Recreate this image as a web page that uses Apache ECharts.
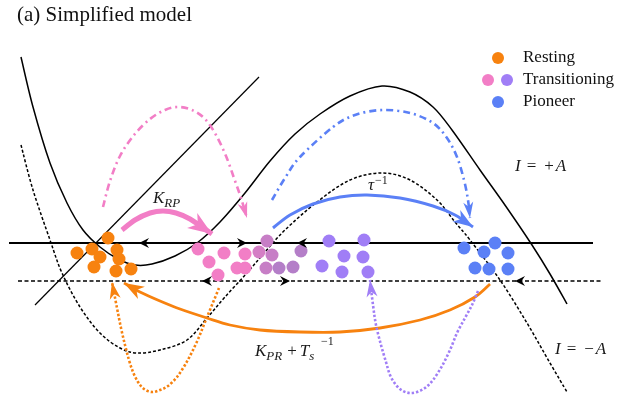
<!DOCTYPE html>
<html><head><meta charset="utf-8">
<script src="https://cdn.jsdelivr.net/npm/echarts@6/dist/echarts.min.js"></script>
<style>html,body{margin:0;padding:0;background:#fff}#c{width:626px;height:398px}</style>
</head><body><div id="c"></div>
<script>
// ---- schematic data (x, y in drawing units; y grows downward) ----
const nullclinePlus = [[21,57],[33,107],[50,163],[67,203],[83,230],[100,247],[118,259],[135,265],[152,264],[175,256],[197,243],[220,222],[245,193],[270,161],[295,134],[320,114],[350,96],[382,86],[410,92],[433,107],[452,130],[480,170],[507,208],[532,245],[550,274],[567,304]];
const nullclineMinus = [[21,145],[33,190],[50,240],[62,273],[80,307],[100,333],[120,348],[137,353],[160,350],[187,340],[207,318],[225,297],[247,273],[265,252],[285,230],[317,202],[350,180],[382,173],[410,180],[437,200],[455,222],[470,240],[500,280],[527,323],[550,363],[567,392]];
const diagonalLine = [[35,305],[259,77]];
const solidFixedLine = [[9,243],[593,243]];
const dashedFixedLine = [[18,281],[602,281]];

const restingDots = [[77,253],[92,249],[108,238],[117,250],[100,257],[119,259],[94,267],[116,271],[131,269]];
const transitionPinkDots = [[198,249],[209,262],[224,253],[218,275],[237,268],[245,268],[245,254]];
const transitionMauveADots = [[259,252]];
const transitionMauveBDots = [[267,241],[272,255],[266,268]];
const transitionMauveCDots = [[279,268],[293,267],[301,251]];
const transitionPurpleDots = [[329,241],[364,240],[344,256],[363,257],[322,266],[342,272],[368,272]];
const pioneerDots = [[464,248],[495,243],[484,252],[508,253],[475,268],[489,269],[508,269]];

const arcKRP = [[122,230],[135,220],[150,213],[163,211],[176,213],[190,219],[212,234]];
const arcPinkDashDot = [[103,207],[110,181],[120,156],[134,135],[150,119],[165,110],[178,107],[192,110],[205,119],[216,135],[226,156],[234,178],[241,198],[247,218]];
const arcTau = [[273,228],[290,215],[313,204],[340,197],[367,195],[400,198],[433,206],[455,215],[473,227]];
const arcBlueDashDot = [[272,200],[285,178],[300,157],[333,127],[355,115],[382,110],[410,113],[433,123],[447,138],[457,157],[464,180],[468,200],[470,218]];
const arcKPR = [[490,284],[475,297],[450,310],[420,320],[380,328],[340,332],[300,332],[260,330],[230,325],[207,318],[180,309],[160,301],[140,292],[124,283]];
const arcOrangeDotted = [[219,288],[212,305],[205,322],[199,337],[192,352],[185,365],[177,377],[168,386],[160,390],[152,392],[144,389],[138,382],[133,372],[129,360],[125,345],[121,328],[117,308],[112,282]];
const arcPurpleDotted = [[478,291],[472,305],[465,318],[457,333],[450,350],[442,366],[433,380],[425,388],[417,392],[410,393],[403,391],[396,385],[390,375],[386,362],[381,345],[376,325],[373,305],[370,280]];

// flow arrows on the two fixed-point lines: [tipX, y, direction]
const solidFlowArrows = [[139,243,-1],[247,243,1],[297,243,-1]];
const dashedFlowArrows = [[202,281,-1],[290,281,1],[515,281,-1]];

const legendResting = [[498,58]];
const legendTransPink = [[488,80]];
const legendTransPurple = [[507,80]];
const legendPioneer = [[498,102]];

// ---- styling ----
const ORANGE = '#f7820f', PINK = '#f27ec6', PURPLE = '#a07ef6', BLUE = '#5b80f6';
const SERIF = '"Liberation Serif", "DejaVu Serif", serif';
const HEAD = 'path://M5,0L10,14L5,10L0,14Z';
const SMALLHEAD = 'path://M5,0L10,12L5,8L0,12Z';

// smooth curve through the given points (Catmull-Rom -> cubic Bezier), placed with the axes
function spline(points, color, width, dash, z) {
  return {
    type:'custom', coordinateSystem:'cartesian2d', data: points, encode:{x:0, y:1},
    z: z, silent:true, clip:false,
    renderItem: function (params, api) {
      if (params.dataIndex !== 0) return null;
      const P = points.map(function (p) { return api.coord(p); });
      const n = P.length;
      let d = 'M' + P[0][0] + ' ' + P[0][1];
      for (let i = 0; i < n - 1; i++) {
        const p0 = P[Math.max(i - 1, 0)], p1 = P[i], p2 = P[i + 1], p3 = P[Math.min(i + 2, n - 1)];
        const c1x = p1[0] + (p2[0] - p0[0]) / 6, c1y = p1[1] + (p2[1] - p0[1]) / 6;
        const c2x = p2[0] - (p3[0] - p1[0]) / 6, c2y = p2[1] - (p3[1] - p1[1]) / 6;
        d += 'C' + c1x + ' ' + c1y + ' ' + c2x + ' ' + c2y + ' ' + p2[0] + ' ' + p2[1];
      }
      return {type:'path', shape:{pathData: d},
        style:{fill:'none', stroke: color, lineWidth: width, lineDash: dash || null, lineCap:'butt', lineJoin:'round'}};
    }
  };
}
function straight(data, color, width, type, z) {
  return {type:'line', data: data, showSymbol:false, symbol:'none',
    lineStyle:{color: color, width: width, type: type, cap:'butt'}, z: z, silent:true};
}
function dots(data, color, size, z) {
  return {type:'scatter', data: data, symbol:'circle', symbolSize: size,
    itemStyle:{color: color, opacity:1}, z: z, silent:true};
}
function head(tip, prev, len, wid, color, path, z) {
  const dx = tip[0]-prev[0], dy = tip[1]-prev[1];
  const d = Math.hypot(dx, dy);
  const ux = dx/d, uy = dy/d;
  const c = [tip[0]-ux*len/2, tip[1]-uy*len/2];
  const rot = Math.atan2(-dy, dx)*180/Math.PI - 90;
  return {type:'scatter', data:[c], symbol: path, symbolSize:[wid, len], symbolRotate: rot,
    itemStyle:{color: color, opacity:1}, z: z, silent:true};
}
function endHead(arr, len, wid, color, z) {
  return head(arr[arr.length-1], arr[arr.length-2], len, wid, color, HEAD, z);
}

const series = [
  spline(nullclinePlus, '#000', 1.5, null, 2),
  spline(nullclineMinus, '#000', 1.5, [3,2], 2),
  straight(diagonalLine, '#000', 1.2, 'solid', 2),
  straight(solidFixedLine, '#000', 1.8, 'solid', 2),
  straight(dashedFixedLine, '#000', 1.5, [4,2.5], 2),

  dots(restingDots, ORANGE, 13, 4),
  dots(transitionPinkDots, PINK, 13, 4),
  dots(transitionMauveADots, '#d47ec5', 13, 4),
  dots(transitionMauveBDots, '#c77ec6', 13, 4),
  dots(transitionMauveCDots, '#b47ec8', 13, 4),
  dots(transitionPurpleDots, PURPLE, 13, 4),
  dots(pioneerDots, BLUE, 13, 4),

  spline(arcPinkDashDot, PINK, 2.6, [7,4,2,4], 5),
  spline(arcBlueDashDot, BLUE, 2.6, [7,4,2,4], 5),
  spline(arcKRP, PINK, 5, null, 5),
  spline(arcTau, BLUE, 3, null, 5),
  spline(arcKPR, ORANGE, 2.8, null, 5),
  spline(arcOrangeDotted, ORANGE, 2.6, [2.4,2], 5),
  spline(arcPurpleDotted, PURPLE, 2.6, [2.4,2], 5),

  endHead(arcPinkDashDot, 16, 10, PINK, 6),
  endHead(arcBlueDashDot, 16, 10, BLUE, 6),
  endHead(arcKRP, 24, 18, PINK, 6),
  endHead(arcTau, 20, 14, BLUE, 6),
  endHead(arcKPR, 20, 14, ORANGE, 6),
  endHead(arcOrangeDotted, 17, 11, ORANGE, 6),
  endHead(arcPurpleDotted, 17, 11, PURPLE, 6),

  dots(legendResting, ORANGE, 12, 4),
  dots(legendTransPink, PINK, 12, 4),
  dots(legendTransPurple, PURPLE, 12, 4),
  dots(legendPioneer, BLUE, 12, 4)
];
solidFlowArrows.concat(dashedFlowArrows).forEach(function (a) {
  series.push(head([a[0], a[1]], [a[0]-a[2]*10, a[1]], 10, 10, '#000', SMALLHEAD, 7));
});

const INK = '#1a1a1a';
const it = {fontFamily: SERIF, fontStyle:'italic', fontSize:17, lineHeight:22, verticalAlign:'middle', fill: INK};
const eq = {fontFamily: SERIF, fontSize:17, lineHeight:22, verticalAlign:'middle', fill: INK, padding:[0,5,0,6]};
const pl = {fontFamily: SERIF, fontSize:17, lineHeight:22, verticalAlign:'middle', fill: INK, padding:[0,2,0,3]};
const nm = {fontFamily: SERIF, fontSize:17, lineHeight:22, verticalAlign:'middle', fill: INK, padding:[0,3,0,5]};
const sub = {fontFamily: SERIF, fontStyle:'italic', fontSize:13, lineHeight:15, verticalAlign:'bottom', fill: INK};
const sup = {fontFamily: SERIF, fontSize:12, lineHeight:13, verticalAlign:'top', fill: INK, padding:[0,0,0,1]};

const graphic = [
  {type:'text', x:17, y:15, z:10, style:{text:'(a) Simplified model', fontFamily: SERIF, fontSize:21, fill:'#111', verticalAlign:'middle'}},
  {type:'text', x:523, y:58, z:10, style:{text:'Resting', fontFamily: SERIF, fontSize:17, fill:'#111', verticalAlign:'middle'}},
  {type:'text', x:523, y:80, z:10, style:{text:'Transitioning', fontFamily: SERIF, fontSize:17, fill:'#111', verticalAlign:'middle'}},
  {type:'text', x:523, y:102, z:10, style:{text:'Pioneer', fontFamily: SERIF, fontSize:17, fill:'#111', verticalAlign:'middle'}},
  {type:'text', x:515, y:167, z:10, style:{text:'{i|I}{e|=}{p|+}{i|A}', rich:{i:it, e:eq, p:pl}, verticalAlign:'middle'}},
  {type:'text', x:555, y:350, z:10, style:{text:'{i|I}{e|=}{p|\u2212}{i|A}', rich:{i:it, e:eq, p:pl}, verticalAlign:'middle'}},
  {type:'text', x:153, y:199, z:10, style:{text:'{i|K}{s|RP}', rich:{i:it, s:sub}, verticalAlign:'middle'}},
  {type:'text', x:368, y:186, z:10, style:{text:'{i|\u03C4}{p|\u22121}', rich:{i:it, p:sup}, verticalAlign:'middle'}},
  {type:'text', x:255, y:352, z:10, style:{text:'{i|K}{s|PR}{n|+}{i|T}{s|s}', rich:{i:it, s:sub, n:nm}, verticalAlign:'middle'}},
  {type:'text', x:321, y:342, z:10, style:{text:'\u22121', fontFamily: SERIF, fontSize:12, fill: INK, verticalAlign:'middle'}}
];

const chart = echarts.init(document.getElementById('c'), null, {renderer:'canvas'});
chart.setOption({
  animation:false,
  backgroundColor:'#fff',
  grid:{left:0, right:0, top:0, bottom:0, containLabel:false},
  xAxis:{type:'value', min:0, max:626, show:false},
  yAxis:{type:'value', min:0, max:398, inverse:true, show:false},
  series: series,
  graphic: graphic
});
</script></body></html>
